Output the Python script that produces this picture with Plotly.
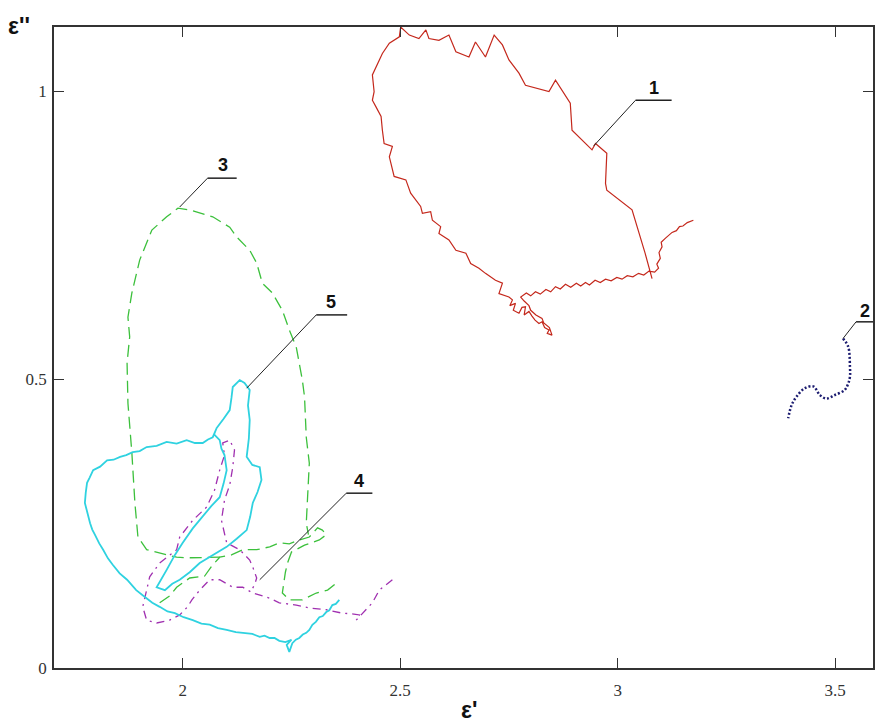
import plotly.graph_objects as go

# ---------------- data (ε', ε'') ----------------
c1_x = [3.079, 3.063, 3.033, 2.975, 2.972, 2.975, 2.949, 2.941, 2.895, 2.891, 2.857, 2.842,
        2.788, 2.773, 2.750, 2.735, 2.716, 2.696, 2.673, 2.658, 2.628, 2.612, 2.589, 2.566,
        2.559, 2.543, 2.521, 2.501, 2.498, 2.475, 2.459, 2.444, 2.436, 2.440, 2.436, 2.444,
        2.456, 2.459, 2.463, 2.482, 2.475, 2.486, 2.513, 2.524, 2.547, 2.551, 2.570, 2.574,
        2.593, 2.589, 2.612, 2.628, 2.651, 2.662, 2.681, 2.696, 2.719, 2.735, 2.727, 2.750,
        2.758, 2.752, 2.765, 2.760, 2.773, 2.780, 2.788, 2.785, 2.796, 2.803, 2.810, 2.819,
        2.826, 2.832, 2.842, 2.838, 2.849, 2.843, 2.830, 2.826, 2.812, 2.800, 2.796, 2.785,
        2.777, 2.790, 2.800, 2.811, 2.822, 2.835, 2.846, 2.857, 2.868, 2.880, 2.892, 2.905,
        2.915, 2.926, 2.935, 2.948, 2.960, 2.972, 2.985, 2.998, 3.010, 3.022, 3.035, 3.048,
        3.060, 3.072, 3.085, 3.094, 3.090, 3.098, 3.095, 3.102, 3.100, 3.110, 3.118, 3.125,
        3.135, 3.142, 3.150, 3.160, 3.174]
c1_y = [0.675, 0.719, 0.794, 0.828, 0.840, 0.892, 0.909, 0.898, 0.932, 0.979, 1.019, 0.999,
        1.010, 1.031, 1.054, 1.080, 1.097, 1.059, 1.085, 1.059, 1.068, 1.097, 1.088, 1.091,
        1.106, 1.091, 1.097, 1.111, 1.094, 1.083, 1.065, 1.042, 1.028, 0.999, 0.984, 0.973,
        0.956, 0.932, 0.909, 0.904, 0.886, 0.852, 0.846, 0.823, 0.800, 0.788, 0.791, 0.776,
        0.765, 0.753, 0.742, 0.724, 0.719, 0.701, 0.693, 0.684, 0.672, 0.667, 0.649, 0.643,
        0.638, 0.628, 0.632, 0.620, 0.615, 0.625, 0.626, 0.612, 0.618, 0.610, 0.603, 0.597,
        0.600, 0.590, 0.586, 0.580, 0.577, 0.590, 0.598, 0.606, 0.612, 0.620, 0.628, 0.636,
        0.643, 0.650, 0.645, 0.652, 0.648, 0.656, 0.652, 0.661, 0.657, 0.665, 0.660, 0.667,
        0.662, 0.668, 0.664, 0.672, 0.668, 0.674, 0.671, 0.677, 0.674, 0.680, 0.678, 0.684,
        0.681, 0.688, 0.686, 0.693, 0.700, 0.710, 0.720, 0.730, 0.738, 0.745, 0.750, 0.755,
        0.758, 0.765, 0.766, 0.772, 0.776]

c2_x = [3.518, 3.530, 3.534, 3.534, 3.530, 3.522, 3.499, 3.480, 3.465, 3.450, 3.430, 3.411,
        3.400, 3.392]
c2_y = [0.571, 0.557, 0.522, 0.505, 0.493, 0.482, 0.473, 0.467, 0.473, 0.488, 0.485, 0.470,
        0.456, 0.433]

c3_x = [1.947, 1.970, 1.986, 2.016, 2.050, 2.067, 2.085, 2.112, 2.138, 2.170, 2.200, 2.222,
        2.245, 2.268, 2.291, 2.310, 2.321, 2.330, 2.314, 2.280, 2.250, 2.241, 2.236, 2.234,
        2.229, 2.245, 2.275, 2.307, 2.333, 2.353, None,
        2.085, 2.039, 2.009, 1.986, 1.947, 1.917, 1.897, 1.890, 1.883, 1.878, 1.874, 1.872,
        1.878, 1.874, 1.883, 1.901, 1.929, 1.963, 1.989, 2.016, 2.039, 2.069, 2.108, 2.124,
        2.154, 2.170, 2.183, 2.206, 2.229, 2.245, 2.261, 2.268, 2.275, 2.280, 2.284, 2.291,
        2.287, 2.284, 2.289]
c3_y = [0.113, 0.125, 0.140, 0.156, 0.159, 0.177, 0.192, 0.196, 0.205, 0.205, 0.210, 0.217,
        0.215, 0.222, 0.227, 0.243, 0.239, 0.231, 0.222, 0.213, 0.201, 0.182, 0.166, 0.153,
        0.130, 0.118, 0.118, 0.130, 0.135, 0.147, None,
        0.192, 0.191, 0.191, 0.192, 0.199, 0.205, 0.227, 0.286, 0.373, 0.430, 0.459, 0.529,
        0.574, 0.608, 0.650, 0.707, 0.759, 0.782, 0.797, 0.794, 0.789, 0.782, 0.764, 0.747,
        0.724, 0.702, 0.667, 0.650, 0.620, 0.586, 0.556, 0.529, 0.499, 0.470, 0.400, 0.355,
        0.296, 0.251, 0.231]

c4_x = [2.482, 2.466, 2.452, 2.436, 2.417, 2.399, 2.406, 2.388, 2.367, 2.330, 2.291, 2.261,
        2.222, 2.200, 2.161, 2.138, 2.115, 2.085, 2.062, 2.039, 2.021, 2.011, 1.993, 1.970,
        1.940, 1.917, 1.908, 1.924, 1.947, 1.986, 1.993, 2.023, 2.055, 2.073, 2.085, 2.096,
        2.092, 2.108, 2.119, 2.115, 2.108, 2.096, 2.089, 2.101, 2.131, 2.154, 2.161, 2.170,
        2.165, 2.158]
c4_y = [0.153, 0.144, 0.135, 0.113, 0.097, 0.083, 0.092, 0.094, 0.095, 0.101, 0.104, 0.109,
        0.113, 0.121, 0.130, 0.140, 0.140, 0.153, 0.153, 0.135, 0.118, 0.106, 0.092, 0.083,
        0.078, 0.083, 0.106, 0.158, 0.182, 0.205, 0.227, 0.256, 0.279, 0.308, 0.343, 0.369,
        0.390, 0.395, 0.378, 0.348, 0.317, 0.291, 0.256, 0.217, 0.205, 0.187, 0.175, 0.156,
        0.144, 0.135]

c5_x = [2.360, 2.352, 2.344, 2.337, 2.330, 2.322, 2.314, 2.306, 2.298, 2.291, 2.284, 2.276,
        2.268, 2.260, 2.252, 2.245, 2.239, 2.250, 2.236, 2.222, 2.211, 2.200, 2.188, 2.177,
        2.160, 2.142, 2.122, 2.101, 2.081, 2.062, 2.043, 2.023, 2.002, 1.982, 1.965, 1.947,
        1.930, 1.913, 1.893, 1.872, 1.855, 1.839, 1.828, 1.817, 1.808, 1.798, 1.792, 1.787,
        1.781, 1.775, 1.777, 1.780, 1.786, 1.794, 1.810, 1.826, 1.841, 1.856, 1.870, 1.885,
        1.901, 1.917, 1.940, 1.963, 1.986, 2.009, 2.028, 2.046, 2.058, 2.069, 2.078, 2.072,
        2.085, 2.089, 2.096, 2.101, 2.094, 2.085, 2.066, 2.046, 2.023, 2.000, 1.982, 1.963,
        1.952, 1.940, 1.959, 1.976, 1.993, 2.016, 2.039, 2.070, 2.101, 2.124, 2.147, 2.155,
        2.161, 2.172, 2.181, 2.177, 2.160, 2.147, 2.152, 2.154, 2.150, 2.154, 2.142, 2.131,
        2.115, 2.112, 2.108, 2.094, 2.078]
c5_y = [0.118, 0.111, 0.109, 0.100, 0.097, 0.090, 0.088, 0.080, 0.075, 0.066, 0.061, 0.058,
        0.052, 0.049, 0.043, 0.028, 0.040, 0.049, 0.045, 0.047, 0.052, 0.052, 0.056, 0.054,
        0.059, 0.061, 0.062, 0.066, 0.069, 0.075, 0.077, 0.083, 0.088, 0.095, 0.098, 0.106,
        0.113, 0.123, 0.135, 0.153, 0.164, 0.179, 0.190, 0.205, 0.216, 0.231, 0.240, 0.251,
        0.267, 0.286, 0.304, 0.321, 0.330, 0.343, 0.349, 0.360, 0.361, 0.366, 0.369, 0.374,
        0.376, 0.383, 0.385, 0.392, 0.389, 0.395, 0.390, 0.390, 0.396, 0.400, 0.416, 0.405,
        0.395, 0.380, 0.369, 0.343, 0.320, 0.296, 0.281, 0.262, 0.242, 0.217, 0.196, 0.170,
        0.156, 0.140, 0.135, 0.146, 0.153, 0.166, 0.182, 0.196, 0.210, 0.224, 0.239, 0.262,
        0.286, 0.305, 0.326, 0.348, 0.352, 0.366, 0.398, 0.430, 0.455, 0.482, 0.494, 0.499,
        0.487, 0.468, 0.447, 0.432, 0.416]

x_ticks = [2, 2.5, 3, 3.5]
x_tick_text = ["2", "2.5", "3", "3.5"]
y_ticks = [0, 0.5, 1]
y_tick_text = ["0", "0.5", "1"]

# curve labels: text, point on curve, corner of leader, underline end, text position
labels = ["1", "2", "3", "4", "5"]
label_pt_x = [2.945, 3.518, 1.993, 2.177, 2.147]
label_pt_y = [0.905, 0.571, 0.799, 0.153, 0.485]
label_corner_x = [3.041, 3.548, 2.057, 2.376, 2.307]
label_corner_y = [0.984, 0.600, 0.849, 0.303, 0.612]
label_end_x = [3.124, 3.610, 2.124, 2.436, 2.378]
label_text_x = [3.083, 3.569, 2.092, 2.406, 2.342]
label_text_y = [1.006, 0.619, 0.871, 0.324, 0.635]

# ---------------- figure ----------------
fig = go.Figure()
fig.add_trace(go.Scatter(x=c1_x, y=c1_y, mode="lines", name="1",
                         line=dict(color="#c4281c", width=1.2)))
fig.add_trace(go.Scatter(x=c2_x, y=c2_y, mode="lines", name="2", line_shape="spline",
                         line=dict(color="#1c1c70", width=2.5, dash="2px,2px")))
fig.add_trace(go.Scatter(x=c3_x, y=c3_y, mode="lines", name="3", connectgaps=False,
                         line=dict(color="#3cc03c", width=1.3, dash="12px,6px")))
fig.add_trace(go.Scatter(x=c4_x, y=c4_y, mode="lines", name="4",
                         line=dict(color="#a030b0", width=1.3, dash="8px,5px,2px,5px")))
fig.add_trace(go.Scatter(x=c5_x, y=c5_y, mode="lines", name="5",
                         line=dict(color="#2fd2e0", width=1.8)))

shapes = []
annotations = []
for i, t in enumerate(labels):
    shapes.append(dict(type="line", xref="x", yref="y",
                       x0=label_pt_x[i], y0=label_pt_y[i],
                       x1=label_corner_x[i], y1=label_corner_y[i],
                       line=dict(color="#222", width=1)))
    shapes.append(dict(type="line", xref="x", yref="y",
                       x0=label_corner_x[i], y0=label_corner_y[i],
                       x1=label_end_x[i], y1=label_corner_y[i],
                       line=dict(color="#222", width=1.5)))
    annotations.append(dict(x=label_text_x[i], y=label_text_y[i], xref="x", yref="y",
                            text="<b>" + t + "</b>", showarrow=False,
                            font=dict(family="Liberation Sans, Arial", size=18, color="#111"),
                            xanchor="center", yanchor="middle"))

annotations.append(dict(x=-0.058, y=1.002, xref="paper", yref="paper", text="<b>ε''</b>",
                        showarrow=False, xanchor="left", yanchor="middle",
                        font=dict(family="Liberation Sans, Arial", size=23, color="#111")))
annotations.append(dict(x=0.507, y=-0.066, xref="paper", yref="paper", text="<b>ε'</b>",
                        showarrow=False, xanchor="center", yanchor="middle",
                        font=dict(family="Liberation Sans, Arial", size=23, color="#111")))

axis_common = dict(showgrid=False, zeroline=False, showline=True, linecolor="#333",
                   linewidth=1.5, mirror="ticks", ticks="inside", ticklen=10,
                   tickwidth=1, tickcolor="#333",
                   tickfont=dict(family="Liberation Serif", size=17, color="#333"))

fig.update_layout(
    width=875, height=724,
    margin=dict(l=54, r=0, t=27, b=56),
    paper_bgcolor="white", plot_bgcolor="white",
    showlegend=False,
    shapes=shapes,
    annotations=annotations,
    xaxis=dict(range=[1.704, 3.587], tickvals=x_ticks, ticktext=x_tick_text,
               ticklabelstandoff=6, **axis_common),
    yaxis=dict(range=[0, 1.111], tickvals=y_ticks, ticktext=y_tick_text,
               ticklabelstandoff=2, **axis_common),
)

fig.write_html("out.html")
